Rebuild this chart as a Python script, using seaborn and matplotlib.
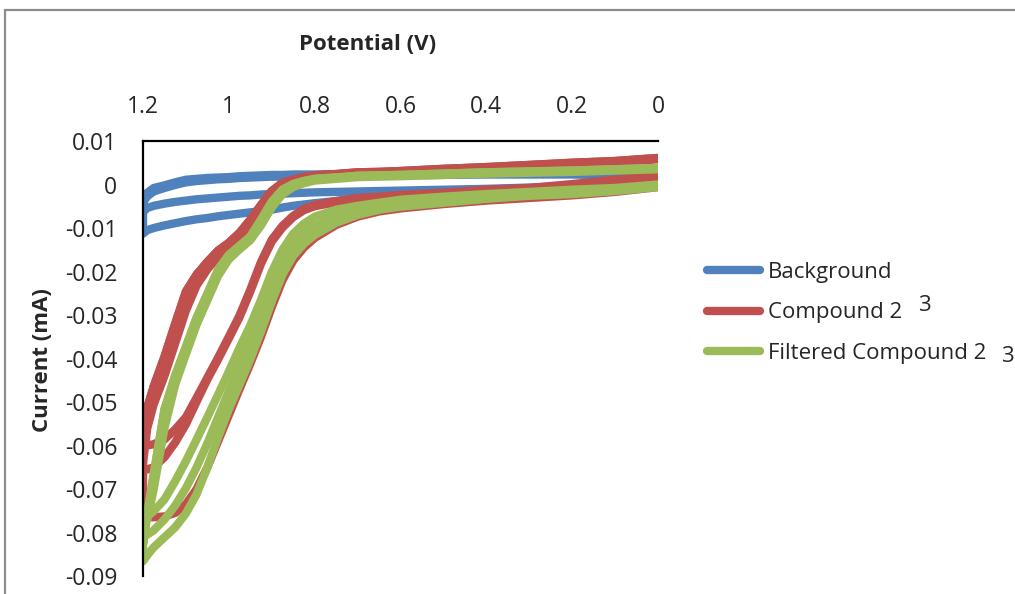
import numpy as np
import pandas as pd
import matplotlib
matplotlib.use("Agg")
import matplotlib.pyplot as plt
import seaborn as sns
from matplotlib.lines import Line2D
from matplotlib.patches import Rectangle

# ---------------- data ----------------
potential = [0.0, 0.1, 0.2, 0.3, 0.4, 0.5, 0.6, 0.65, 0.7, 0.75, 0.8, 0.825, 0.85, 0.875,
             0.9, 0.925, 0.95, 0.975, 1.0, 1.025, 1.05, 1.075, 1.1, 1.125, 1.15, 1.175, 1.19, 1.2]

# Background (sweep towards 1.2 V, then back)
bg_low    = [0.0011, 0.0000, -0.0005, -0.0010, -0.0014, -0.0019, -0.0024, -0.0028, -0.0033, -0.0038, -0.0043, -0.0046, -0.0049, -0.0053,
             -0.0058, -0.0061, -0.0064, -0.0067, -0.0070, -0.0073, -0.0077, -0.0080, -0.0084, -0.0089, -0.0094, -0.0100, -0.0105, -0.0113]
bg_upper  = [0.0022, 0.0025, 0.0027, 0.0027, 0.0027, 0.0026, 0.0025, 0.0025, 0.0024, 0.0024, 0.0023, 0.0023, 0.0023, 0.0022,
             0.0022, 0.0021, 0.0020, 0.0019, 0.0017, 0.0016, 0.0015, 0.0013, 0.0011, 0.0005, -0.0002, -0.0008, -0.0019, -0.0032]
bg_mid    = [0.0011, 0.0002, -0.0003, -0.0007, -0.0010, -0.0012, -0.0014, -0.0015, -0.0016, -0.0017, -0.0018, -0.0019, -0.0020, -0.0021,
             -0.0022, -0.0023, -0.0025, -0.0026, -0.0028, -0.0030, -0.0032, -0.0034, -0.0037, -0.0040, -0.0044, -0.0049, -0.0054, -0.0063]
bg_upper2 = [0.0018, 0.0021, 0.0023, 0.0023, 0.0023, 0.0022, 0.0021, 0.0021, 0.0020, 0.0020, 0.0019, 0.0019, 0.0019, 0.0018,
             0.0018, 0.0017, 0.0016, 0.0015, 0.0013, 0.0012, 0.0010, 0.0008, 0.0005, -0.0001, -0.0008, -0.0016, -0.0027, -0.0042]

# Compound 2
cmp_inner  = [0.0061, 0.0054, 0.0050, 0.0045, 0.0040, 0.0036, 0.0031, 0.0029, 0.0028, 0.0024, 0.0021, 0.0017, 0.0011, 0.0004,
              -0.0015, -0.0047, -0.0081, -0.0111, -0.0134, -0.0152, -0.0178, -0.0207, -0.0246, -0.0320, -0.0396, -0.0464, -0.0513, -0.0609]
cmp_mid    = [0.0020, 0.0011, 0.0001, -0.0008, -0.0012, -0.0019, -0.0024, -0.0028, -0.0031, -0.0038, -0.0047, -0.0056, -0.0072, -0.0095,
              -0.0127, -0.0178, -0.0242, -0.0301, -0.0350, -0.0398, -0.0444, -0.0490, -0.0535, -0.0563, -0.0586, -0.0597, -0.0600, -0.0602]
cmp_inner2 = [0.0058, 0.0051, 0.0047, 0.0042, 0.0037, 0.0033, 0.0028, 0.0026, 0.0025, 0.0021, 0.0017, 0.0012, 0.0005, -0.0008,
              -0.0030, -0.0065, -0.0098, -0.0124, -0.0145, -0.0166, -0.0195, -0.0232, -0.0290, -0.0365, -0.0440, -0.0505, -0.0560, -0.0640]
cmp_mid2   = [0.0017, 0.0008, -0.0002, -0.0011, -0.0015, -0.0022, -0.0027, -0.0031, -0.0034, -0.0041, -0.0050, -0.0059, -0.0075, -0.0099,
              -0.0131, -0.0182, -0.0246, -0.0305, -0.0354, -0.0402, -0.0448, -0.0499, -0.0551, -0.0593, -0.0627, -0.0650, -0.0655, -0.0655]
cmp_outer  = [-0.0006, -0.0017, -0.0025, -0.0031, -0.0037, -0.0045, -0.0055, -0.0062, -0.0074, -0.0093, -0.0123, -0.0145, -0.0175, -0.0220,
              -0.0282, -0.0350, -0.0412, -0.0470, -0.0530, -0.0590, -0.0650, -0.0700, -0.0735, -0.0755, -0.0763, -0.0765, -0.0765, -0.0765]

# Filtered Compound 2
flt_inner  = [0.0038, 0.0035, 0.0032, 0.0030, 0.0028, 0.0025, 0.0022, 0.0021, 0.0020, 0.0016, 0.0013, 0.0008, 0.0001, -0.0012,
              -0.0040, -0.0081, -0.0120, -0.0141, -0.0162, -0.0196, -0.0251, -0.0306, -0.0373, -0.0439, -0.0517, -0.0666, -0.0758, -0.0827]
flt_inner2 = [0.0035, 0.0032, 0.0029, 0.0027, 0.0025, 0.0022, 0.0019, 0.0018, 0.0017, 0.0013, 0.0009, 0.0003, -0.0006, -0.0022,
              -0.0053, -0.0094, -0.0128, -0.0149, -0.0172, -0.0210, -0.0266, -0.0322, -0.0390, -0.0460, -0.0560, -0.0700, -0.0770, -0.0790]
flt_outer1 = [0.0000, -0.0008, -0.0012, -0.0017, -0.0022, -0.0028, -0.0035, -0.0042, -0.0049, -0.0058, -0.0074, -0.0090, -0.0113, -0.0150,
              -0.0201, -0.0265, -0.0324, -0.0375, -0.0430, -0.0483, -0.0535, -0.0586, -0.0636, -0.0682, -0.0724, -0.0751, -0.0763, -0.0769]
flt_outer3 = [-0.0003, -0.0012, -0.0017, -0.0022, -0.0028, -0.0035, -0.0043, -0.0050, -0.0060, -0.0073, -0.0095, -0.0113, -0.0140, -0.0180,
              -0.0235, -0.0300, -0.0363, -0.0418, -0.0475, -0.0535, -0.0595, -0.0650, -0.0698, -0.0738, -0.0770, -0.0795, -0.0805, -0.0810]
flt_outer2 = [-0.0006, -0.0015, -0.0022, -0.0026, -0.0033, -0.0042, -0.0051, -0.0058, -0.0070, -0.0088, -0.0116, -0.0136, -0.0164, -0.0207,
              -0.0269, -0.0338, -0.0402, -0.0460, -0.0517, -0.0581, -0.0650, -0.0712, -0.0756, -0.0788, -0.0811, -0.0834, -0.0852, -0.0866]

series_names = ["Background", "Compound 2", "Filtered Compound 2"]
colors = ["#4F81BD", "#C0504D", "#9BBB59"]

x_ticks = [1.2, 1.0, 0.8, 0.6, 0.4, 0.2, 0.0]
x_tick_labels = ["1.2", "1", "0.8", "0.6", "0.4", "0.2", "0"]
y_ticks = [0.01, 0.0, -0.01, -0.02, -0.03, -0.04, -0.05, -0.06, -0.07, -0.08, -0.09]
y_tick_labels = ["0.01", "0", "-0.01", "-0.02", "-0.03", "-0.04", "-0.05", "-0.06", "-0.07", "-0.08", "-0.09"]

# each cycle: (forward sweep 0 -> 1.2 V, reverse sweep 1.2 -> 0 V)
cycles = {
    "Background": [(bg_low, bg_upper), (bg_mid, bg_upper2)],
    "Compound 2": [(cmp_inner, cmp_mid), (cmp_inner2, cmp_mid2), (cmp_inner, cmp_outer)],
    "Filtered Compound 2": [(flt_inner, flt_outer1), (flt_inner2, flt_outer3), (flt_inner, flt_outer2)],
}

rows = []
for s in series_names:
    for ci, (fwd, rev) in enumerate(cycles[s]):
        for v, c in zip(potential + potential[::-1], fwd + rev[::-1]):
            rows.append({"Potential": v, "Current": c, "Series": s, "Cycle": f"{s}-{ci}"})
df = pd.DataFrame(rows)

# ---------------- figure ----------------
sns.set_style("white")
plt.rcParams["font.family"] = ["Open Sans", "DejaVu Sans"]

W, H = 1015, 594
fig = plt.figure(figsize=(W / 100, H / 100), dpi=100)
ax = fig.add_axes([143 / W, 1 - 576 / H, (658 - 143) / W, (576 - 141) / H])

sns.lineplot(data=df, x="Potential", y="Current", hue="Series", units="Cycle",
             estimator=None, sort=False, palette=dict(zip(series_names, colors)),
             hue_order=series_names, linewidth=6, ax=ax, legend=False)

ax.set_xlim(1.2, 0.0)
ax.set_ylim(-0.09, 0.01)
ax.xaxis.tick_top()
ax.set_xticks(x_ticks)
ax.set_xticklabels(x_tick_labels)
ax.set_yticks(y_ticks)
ax.set_yticklabels(y_tick_labels)
ax.tick_params(axis="x", length=0, pad=15.5, labelsize=16.5, top=True, bottom=False)
ax.tick_params(axis="y", length=0, pad=18.5, labelsize=16.5)
ax.set_xlabel("")
ax.set_ylabel("")
for side in ["right", "bottom"]:
    ax.spines[side].set_visible(False)
for side in ["left", "top"]:
    ax.spines[side].set_color("black")
    ax.spines[side].set_linewidth(1.6)
ax.grid(False)

fig.text(368 / W, 1 - 44 / H, "Potential (V)", ha="center", va="center",
         fontsize=16, fontweight="bold")
fig.text(42 / W, 1 - 360 / H, "Current (mA)", ha="center", va="center",
         rotation=90, fontsize=16, fontweight="bold")

handles = [Line2D([0], [0], color=c, lw=6) for c in colors]
fig.legend(handles, series_names, loc="upper left",
           bbox_to_anchor=(707 / W, 1 - 262 / H), frameon=False,
           fontsize=16, handlelength=2.4, handletextpad=0.36,
           labelspacing=0.87, borderpad=0, borderaxespad=0)
fig.text(924 / W, 1 - 305 / H, "3", ha="center", va="center", fontsize=16)
fig.text(1007 / W, 1 - 356 / H, "3", ha="center", va="center", fontsize=16)

# outer chart border (Excel-style), partially outside the image
fig.patches.append(Rectangle((5 / W, -0.2), 1.3, 1.2 - 10 / H,
                             transform=fig.transFigure, fill=False,
                             edgecolor="#8C8C8C", linewidth=1.6))

fig.savefig("out.png", dpi=100)
